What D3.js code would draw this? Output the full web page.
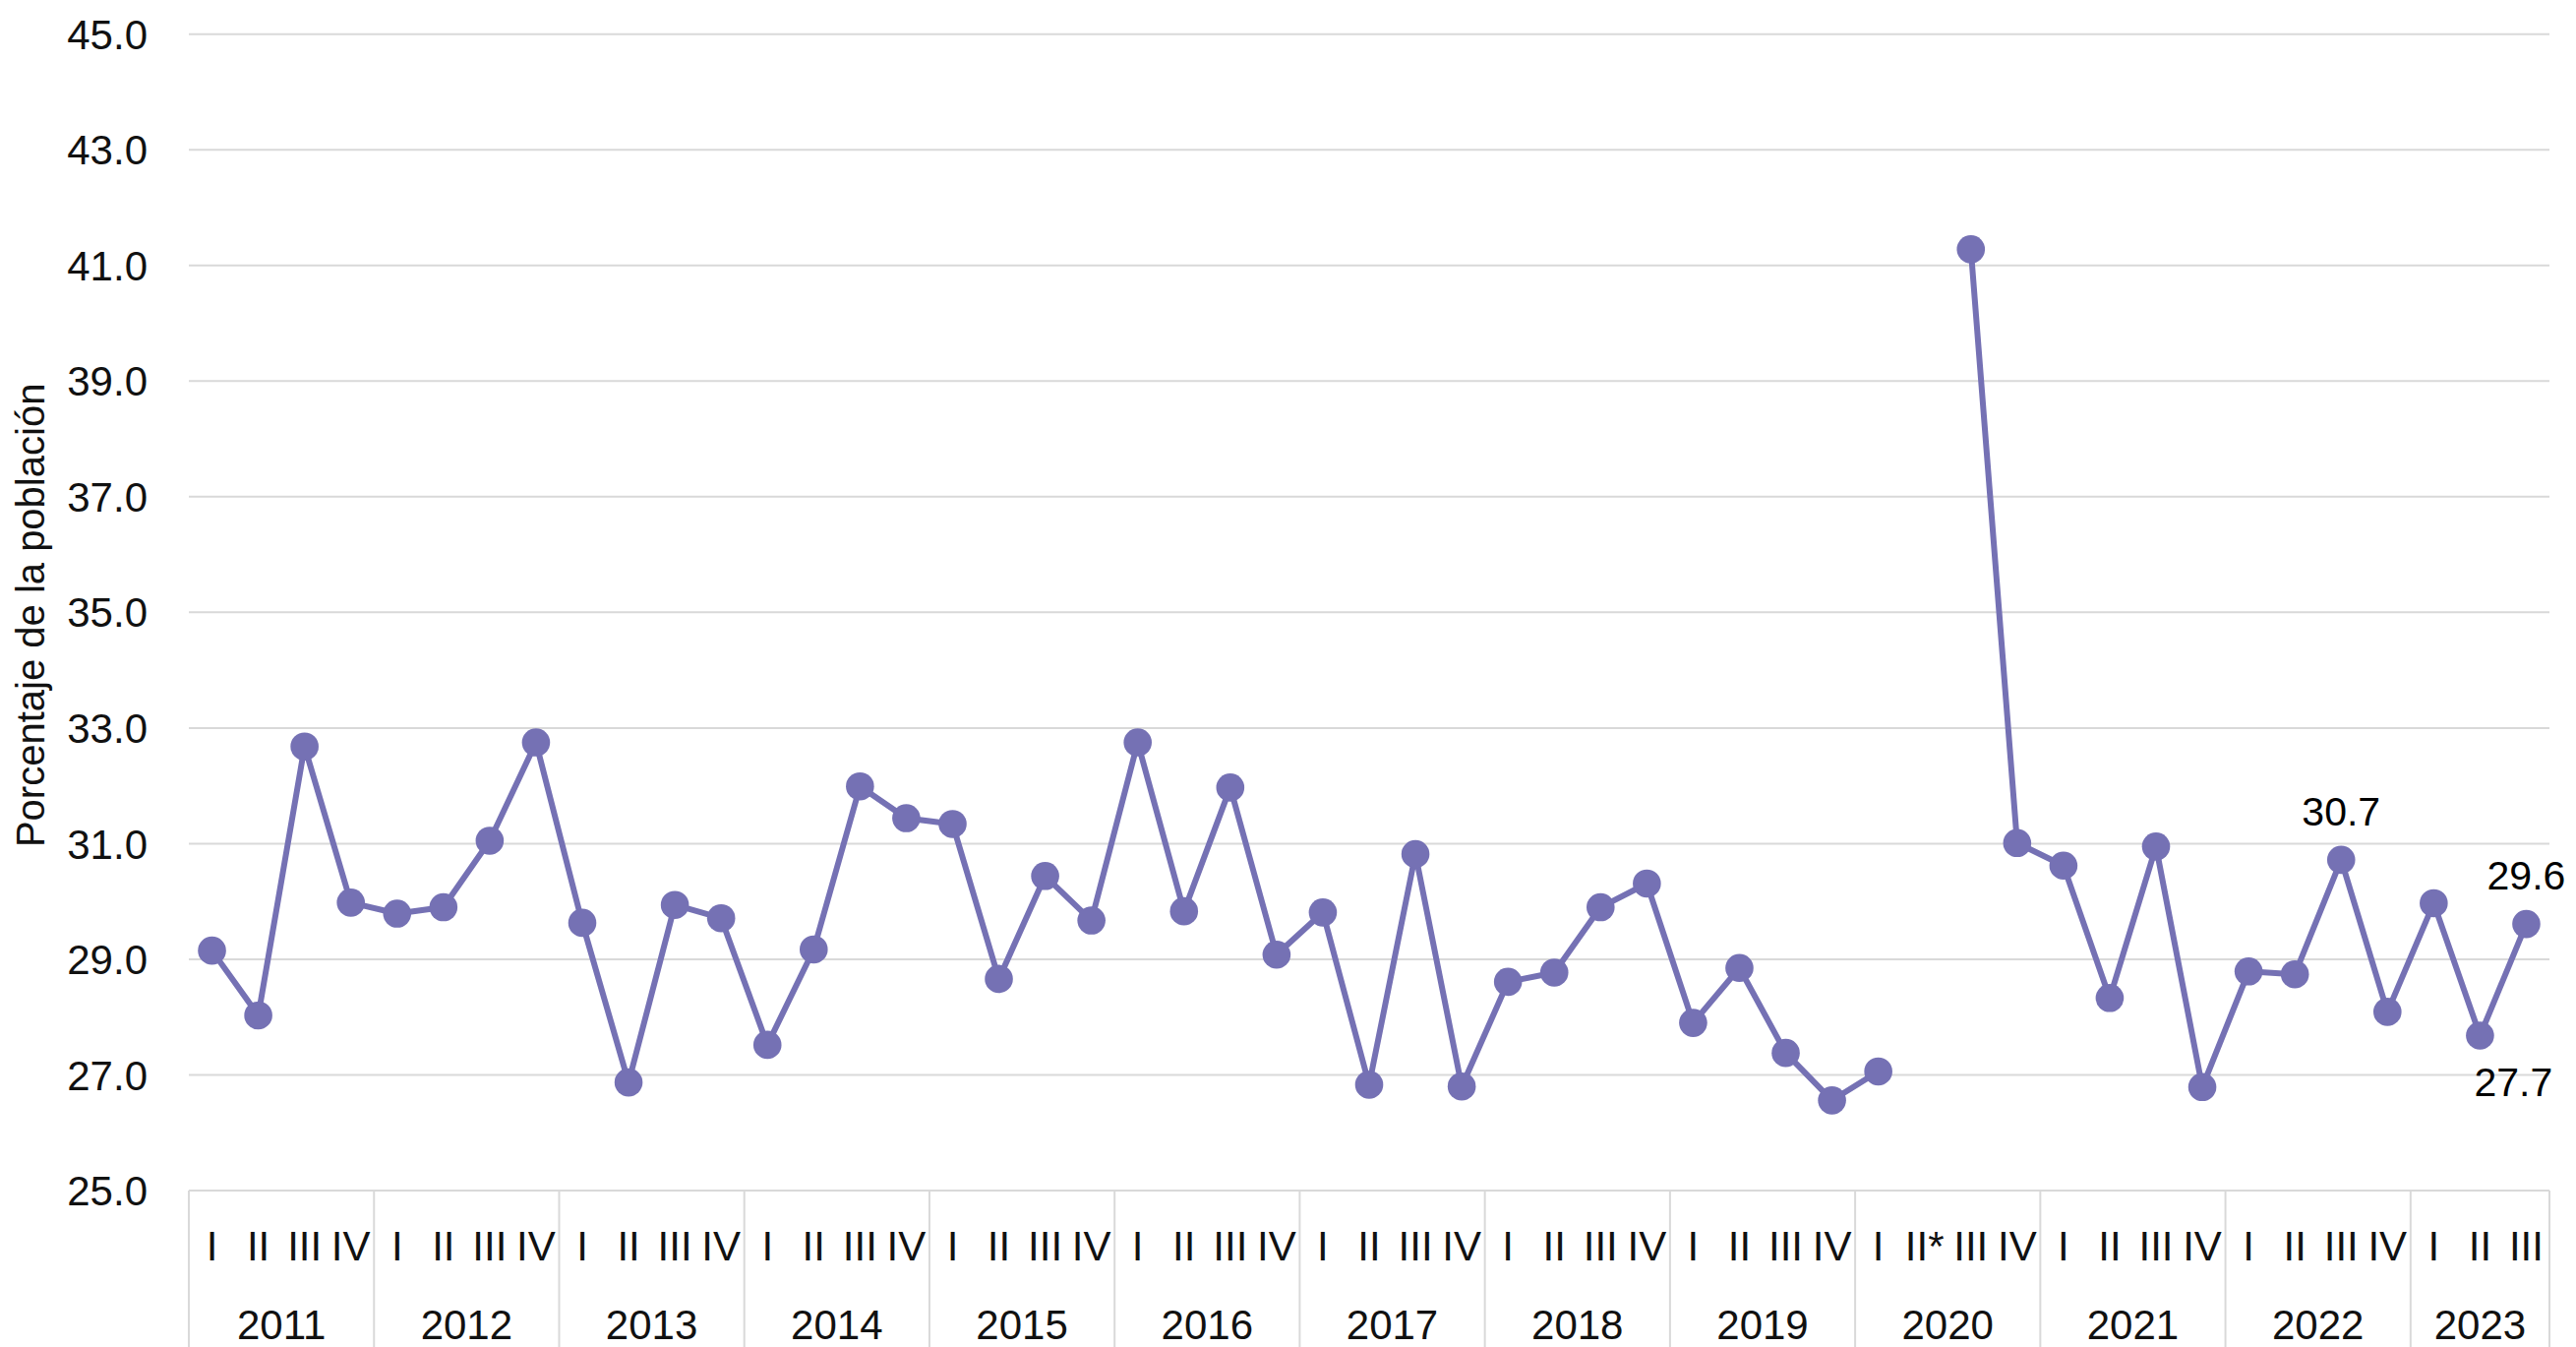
<!DOCTYPE html>
<html>
<head>
<meta charset="utf-8">
<script src="https://cdn.jsdelivr.net/npm/d3@7"></script>
<style>
  html, body { margin: 0; padding: 0; background: #fff; }
  svg { display: block; }
  text { font-family: "Liberation Sans", Arial, sans-serif; }
</style>
</head>
<body>
<svg id="chart" width="2619" height="1369"></svg>
<script>
// ---------- DATA ----------
const years = ["2011","2012","2013","2014","2015","2016","2017","2018","2019","2020","2021","2022","2023"];
const quartersPerYear = [4,4,4,4,4,4,4,4,4,4,4,4,3];
const quarterLabels = [
  "I","II","III","IV", "I","II","III","IV", "I","II","III","IV", "I","II","III","IV",
  "I","II","III","IV", "I","II","III","IV", "I","II","III","IV", "I","II","III","IV",
  "I","II","III","IV", "I","II*","III","IV", "I","II","III","IV", "I","II","III","IV",
  "I","II","III"
];
const values = [
  29.15, 28.03, 32.68, 29.98,
  29.79, 29.90, 31.05, 32.75,
  29.63, 26.87, 29.94, 29.71,
  27.52, 29.17, 31.99, 31.44,
  31.34, 28.66, 30.44, 29.67,
  32.75, 29.83, 31.97, 29.08,
  29.81, 26.83, 30.82, 26.80,
  28.61, 28.77, 29.90, 30.31,
  27.90, 28.85, 27.38, 26.56,
  27.06, null, 41.28, 31.01,
  30.62, 28.33, 30.95, 26.79,
  28.79, 28.74, 30.72, 28.09,
  29.97, 27.68, 29.61
];
const yTicks = [25, 27, 29, 31, 33, 35, 37, 39, 41, 43, 45];
const labelledPoints = [
  { index: 46, place: "above" },
  { index: 49, place: "below" },
  { index: 50, place: "above" }
];
const yTitle = "Porcentaje de la población";

// ---------- LAYOUT ----------
(function () {
const svg = d3.select("#chart");
const plotLeft = 192, plotRight = 2592, plotTop = 34.7, plotBottom = 1210;
const color = "#7571b4";
const gridColor = "#d9d9d9";
const textColor = "#111";

const slots = d3.range(values.length);
const x = d3.scaleBand().domain(slots).range([plotLeft, plotRight]).padding(0);
const y = d3.scaleLinear().domain([25, 45]).range([plotBottom, plotTop]);
const cx = i => x(i) + x.bandwidth() / 2;

// gridlines
svg.append("g").selectAll("line").data(yTicks).join("line")
  .attr("x1", plotLeft).attr("x2", plotRight)
  .attr("y1", d => y(d)).attr("y2", d => y(d))
  .attr("stroke", gridColor).attr("stroke-width", 2);

// y tick labels
svg.append("g").selectAll("text").data(yTicks).join("text")
  .attr("x", 150).attr("y", d => y(d) + 42 * 0.36)
  .attr("text-anchor", "end")
  .attr("font-size", 42).attr("fill", textColor)
  .text(d => d3.format(".1f")(d));

// y title
svg.append("text")
  .attr("transform", `translate(45, ${(plotTop + plotBottom) / 2 + 3}) rotate(-90)`)
  .attr("text-anchor", "middle")
  .attr("font-size", 40).attr("fill", textColor)
  .text(yTitle);

// x axis: year group boxes
let start = 0;
const groups = years.map((yr, k) => {
  const g = { year: yr, start: start, n: quartersPerYear[k] };
  start += quartersPerYear[k];
  return g;
});
const boundaries = groups.map(g => x(g.start)).concat([plotRight]);
svg.append("g").selectAll("line").data(boundaries).join("line")
  .attr("x1", d => d).attr("x2", d => d)
  .attr("y1", plotBottom).attr("y2", 1369)
  .attr("stroke", gridColor).attr("stroke-width", 2);

// quarter labels
svg.append("g").selectAll("text").data(slots).join("text")
  .attr("x", i => cx(i)).attr("y", 1281)
  .attr("text-anchor", "middle")
  .attr("font-size", 42).attr("fill", textColor)
  .text(i => quarterLabels[i]);

// year labels
svg.append("g").selectAll("text").data(groups).join("text")
  .attr("x", g => (x(g.start) + x(g.start + g.n - 1) + x.bandwidth()) / 2)
  .attr("y", 1361)
  .attr("text-anchor", "middle")
  .attr("font-size", 42).attr("fill", textColor)
  .text(g => g.year);

// line
const line = d3.line()
  .defined(i => values[i] != null)
  .x(i => cx(i)).y(i => y(values[i]));
svg.append("path").datum(slots)
  .attr("d", line)
  .attr("fill", "none").attr("stroke", color)
  .attr("stroke-width", 6).attr("stroke-linejoin", "round");

// markers
svg.append("g").selectAll("circle").data(slots.filter(i => values[i] != null)).join("circle")
  .attr("cx", i => cx(i)).attr("cy", i => y(values[i]))
  .attr("r", 14.3).attr("fill", color);

// data labels
svg.append("g").selectAll("text").data(labelledPoints).join("text")
  .attr("x", d => cx(d.index) + (d.place === "below" ? 34 : 0))
  .attr("y", d => y(values[d.index]) + (d.place === "below" ? 61 : -35))
  .attr("text-anchor", "middle")
  .attr("font-size", 41).attr("fill", "#000")
  .text(d => d3.format(".1f")(values[d.index]));
})();
</script>
</body>
</html>
